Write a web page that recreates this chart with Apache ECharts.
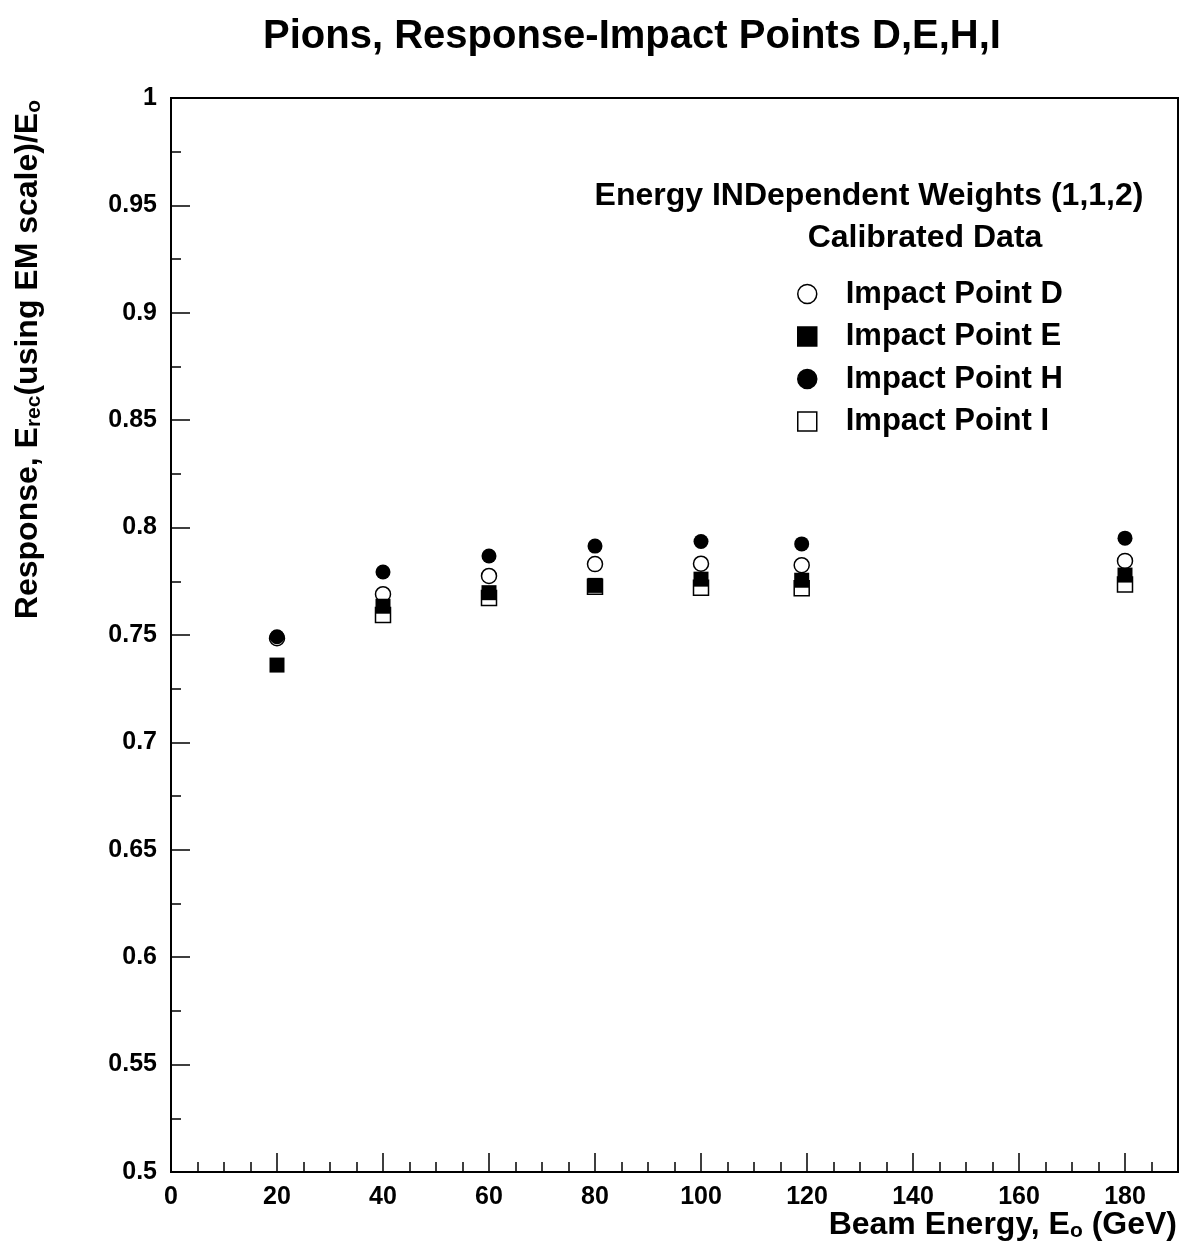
<!DOCTYPE html>
<html>
<head>
<meta charset="utf-8">
<script src="https://cdn.jsdelivr.net/npm/echarts@6/dist/echarts.min.js"></script>
<style>
  html, body { margin: 0; padding: 0; background: #fff; }
  #chart { width: 1184px; height: 1258px; }
</style>
</head>
<body>
<div id="chart"></div>
<script>
// Beam energies (GeV) and pion response per impact point
const beamEnergy = [20, 40, 60, 80, 100, 119, 180];
const responseD = [0.7485, 0.769, 0.7775, 0.783, 0.7832, 0.7825, 0.7845];
const responseE = [0.736, 0.7634, 0.7697, 0.7731, 0.776, 0.7755, 0.7779];
const responseH = [0.7492, 0.7793, 0.7868, 0.7914, 0.7935, 0.7924, 0.7951];
const responseI = [null, 0.7593, 0.7672, 0.7725, 0.772, 0.7718, 0.7735];

const xTickValues = [0, 20, 40, 60, 80, 100, 120, 140, 160, 180];
const legendNames = ['Impact Point D', 'Impact Point E', 'Impact Point H', 'Impact Point I'];

const FONT = '"Liberation Sans", Arial, Helvetica, sans-serif';

function pairs(xs, ys) {
  const out = [];
  for (let i = 0; i < xs.length; i++) {
    if (ys[i] !== null && ys[i] !== undefined) out.push([xs[i], ys[i]]);
  }
  return out;
}

const hollow = { color: '#ffffff', borderColor: '#000000', borderWidth: 1.5, opacity: 1 };
const filled = { color: '#000000', borderColor: '#000000', borderWidth: 0, opacity: 1 };

const subStyle = { fontFamily: FONT, fontWeight: 'bold', fontSize: 21, lineHeight: 6, verticalAlign: 'bottom', fill: '#000' };

const chart = echarts.init(document.getElementById('chart'), null, { renderer: 'canvas' });

chart.setOption({
  backgroundColor: '#ffffff',
  animation: false,
  textStyle: { fontFamily: FONT, fontWeight: 'bold', color: '#000' },
  title: [
    {
      text: 'Pions, Response-Impact Points D,E,H,I',
      left: 632, top: 17, textAlign: 'center', padding: 0,
      textStyle: { fontFamily: FONT, fontWeight: 'bold', fontSize: 40, color: '#000' }
    },
    {
      text: 'Energy INDependent Weights (1,1,2)',
      left: 869, top: 180, textAlign: 'center', padding: 0,
      textStyle: { fontFamily: FONT, fontWeight: 'bold', fontSize: 32, color: '#000' }
    },
    {
      text: 'Calibrated Data',
      left: 925, top: 222, textAlign: 'center', padding: 0,
      textStyle: { fontFamily: FONT, fontWeight: 'bold', fontSize: 32, color: '#000' }
    }
  ],
  legend: {
    orient: 'vertical',
    left: 797, top: 278, padding: 0,
    itemWidth: 19, itemHeight: 19, itemGap: 10.5,
    data: legendNames,
    selectedMode: false,
    itemStyle: { borderWidth: 1.5 },
    textStyle: { fontFamily: FONT, fontWeight: 'bold', fontSize: 31, lineHeight: 32, color: '#000', padding: [0, 0, 0, 24] }
  },
  grid: {
    left: 171, right: 6, top: 98, bottom: 86,
    show: true, borderColor: '#000', borderWidth: 2, backgroundColor: 'transparent'
  },
  xAxis: [
    {
      type: 'value', min: 0, max: 190, interval: 20,
      axisLine: { show: true, onZero: false, lineStyle: { color: '#000', width: 2 } },
      axisTick: { show: true, inside: true, length: 19, customValues: xTickValues, lineStyle: { color: '#000', width: 1.5 } },
      axisLabel: { show: true, margin: 13, customValues: xTickValues, fontFamily: FONT, fontWeight: 'bold', fontSize: 25, color: '#000' },
      splitLine: { show: false }
    },
    {
      type: 'value', min: 0, max: 190, interval: 5, position: 'bottom', offset: 0,
      axisLine: { show: false },
      axisTick: { show: true, inside: true, length: 10, lineStyle: { color: '#000', width: 1.5 } },
      axisLabel: { show: false },
      splitLine: { show: false }
    }
  ],
  yAxis: {
    type: 'value', min: 0.5, max: 1, interval: 0.05,
    axisLine: { show: true, onZero: false, lineStyle: { color: '#000', width: 2 } },
    axisTick: { show: true, inside: true, length: 19, lineStyle: { color: '#000', width: 1.5 } },
    minorTick: { show: true, splitNumber: 2, length: 10, lineStyle: { color: '#000', width: 1.5 } },
    axisLabel: { show: true, margin: 14, fontFamily: FONT, fontWeight: 'bold', fontSize: 25, color: '#000' },
    splitLine: { show: false }
  },
  graphic: [
    {
      type: 'text', x: 28, y: 100, rotation: Math.PI / 2,
      style: {
        text: 'Response, E{sub|rec}(using EM scale)/E{sub|o}',
        align: 'right', verticalAlign: 'middle',
        fontFamily: FONT, fontWeight: 'bold', fontSize: 32, lineHeight: 34, fill: '#000',
        rich: { sub: subStyle }
      }
    },
    {
      type: 'text', x: 1177, y: 1225,
      style: {
        text: 'Beam Energy, E{sub|o} (GeV)',
        align: 'right', verticalAlign: 'middle',
        fontFamily: FONT, fontWeight: 'bold', fontSize: 32, lineHeight: 34, fill: '#000',
        rich: { sub: subStyle }
      }
    }
  ],
  series: [
    { name: 'Impact Point D', type: 'scatter', symbol: 'circle', symbolSize: 15, itemStyle: hollow, data: pairs(beamEnergy, responseD) },
    { name: 'Impact Point I', type: 'scatter', symbol: 'rect', symbolSize: 15, itemStyle: hollow, data: pairs(beamEnergy, responseI) },
    { name: 'Impact Point E', type: 'scatter', symbol: 'rect', symbolSize: 15, itemStyle: filled, data: pairs(beamEnergy, responseE) },
    { name: 'Impact Point H', type: 'scatter', symbol: 'circle', symbolSize: 15, itemStyle: filled, data: pairs(beamEnergy, responseH) }
  ]
});
</script>
</body>
</html>
